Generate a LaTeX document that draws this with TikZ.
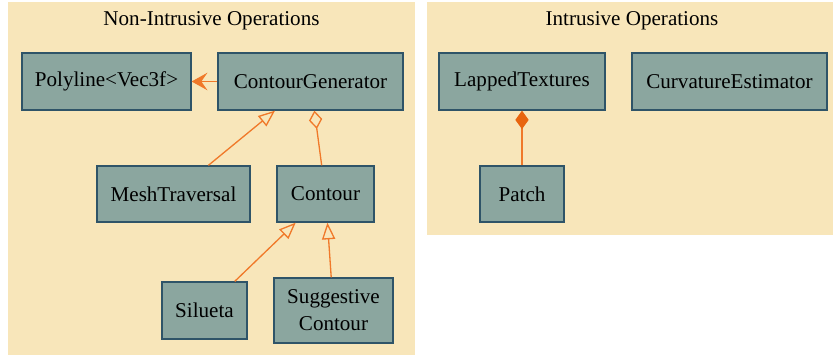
\documentclass[tikz,border=0pt]{standalone}
\usepackage{fontspec}
\setmainfont{Liberation Serif}
\usetikzlibrary{arrows.meta}
\definecolor{clusterbg}{HTML}{F8E6BA}
\definecolor{classbg}{HTML}{8BA69F}
\definecolor{classline}{HTML}{2F5468}
\definecolor{linkcol}{HTML}{F0792A}
\definecolor{compcol}{HTML}{E8650F}
\begin{document}
\begin{tikzpicture}[x=0.02cm,y=-0.02cm,
    cluster/.style={fill=clusterbg,draw=none},
    title/.style={font=\fontsize{12}{14}\selectfont},
    cls/.style={draw=classline,fill=classbg,line width=0.75pt,
        font=\fontsize{12}{15.5}\selectfont,align=center,
        minimum height=1.14cm,inner sep=0pt},
    uses/.style={draw=linkcol,line width=0.75pt,-{Stealth[length=9pt,width=10pt,inset=3.5pt]}},
    inherit/.style={draw=linkcol,line width=0.75pt,-{Triangle[open,length=9.5pt,width=7.5pt]}},
    aggr/.style={draw=linkcol,line width=0.75pt,-{Diamond[open,length=10.5pt,width=7.6pt]}},
    compo/.style={draw=linkcol,line width=0.75pt,-{Diamond[color=compcol,fill=compcol,length=10.5pt,width=7.6pt]}}]
    \useasboundingbox (0,0) rectangle (833,355);
    \fill[white] (0,0) rectangle (833,355);

    \fill[cluster] (8,2) rectangle (415,355);
    \fill[cluster] (427,2) rectangle (833,235);
    \node[title] (nonintr) at (211.5,21) {Non-Intrusive Operations};
    \node[title] (intr) at (632,21) {Intrusive Operations};

    \node[cls,minimum width=3.38cm] (poly) at (106.5,81.5) {Polyline<Vec3f>};
    \node[cls,minimum width=3.7cm] (gen) at (310.5,81.5) {ContourGenerator};
    \node[cls,minimum width=3.06cm,minimum height=1.12cm] (mesh) at (173.5,194) {MeshTraversal};
    \node[cls,minimum width=1.94cm,minimum height=1.12cm] (contour) at (325.5,194) {Contour};
    \node[cls,minimum width=1.7cm] (silueta) at (204.5,310.5) {Silueta};
    \node[cls,minimum width=2.38cm,minimum height=1.3cm] (sugg) at (333.5,310.5) {Suggestive\\Contour};

    \node[cls,minimum width=3.32cm] (lapped) at (522,81.5) {LappedTextures};
    \node[cls,minimum width=3.9cm] (curv) at (729.5,81.5) {CurvatureEstimator};
    \node[cls,minimum width=1.68cm,minimum height=1.12cm] (patch) at (522,194) {Patch};

    \draw[uses] (gen) -- (poly);
    \draw[inherit] (mesh) -- (gen);
    \draw[aggr] (contour) -- (gen);
    \draw[inherit] (silueta) -- (contour);
    \draw[inherit] (sugg) -- (contour);
    \draw[compo] (patch) -- (lapped);
\end{tikzpicture}
\end{document}
